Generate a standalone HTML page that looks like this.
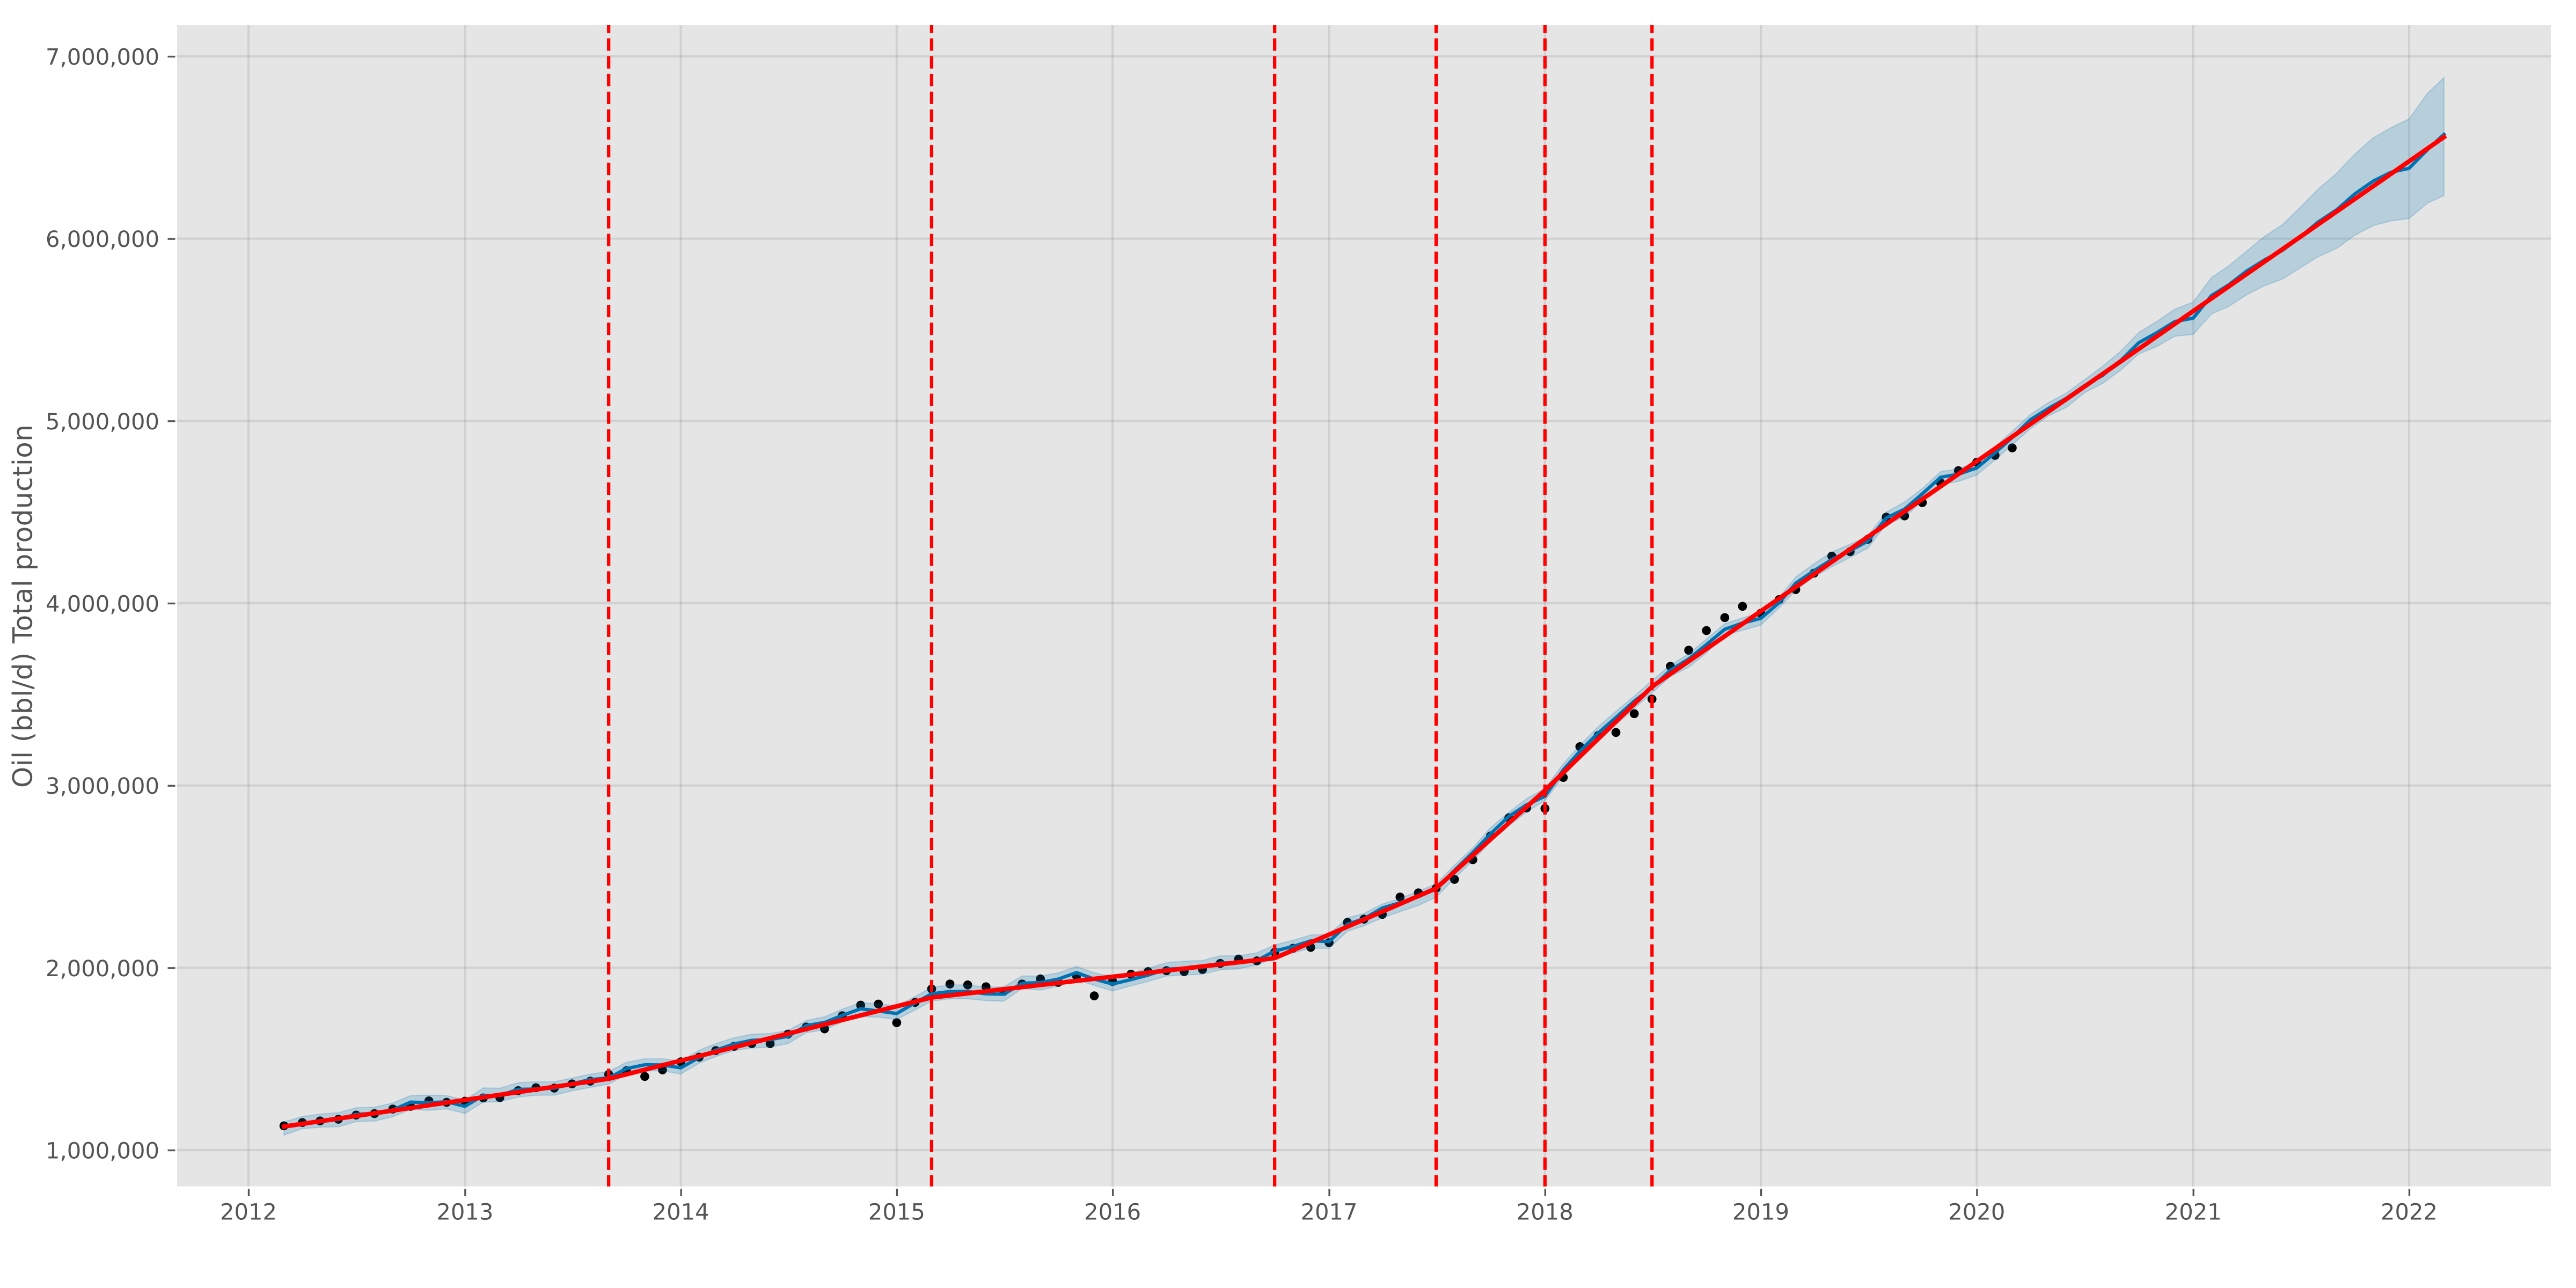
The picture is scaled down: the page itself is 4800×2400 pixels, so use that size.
<!DOCTYPE html>
<html lang="en">
<head>
<meta charset="utf-8">
<title>Oil (bbl/d) Total production forecast</title>
<style>
  html, body { margin: 0; padding: 0; background: #ffffff; }
  body { width: 4800px; height: 2400px; overflow: hidden; }
  svg { display: block; }
  text { font-family: "DejaVu Sans", "Liberation Sans", sans-serif; fill: #555555; text-rendering: geometricPrecision; }
</style>
</head>
<body>
<svg id="chart" xmlns="http://www.w3.org/2000/svg" width="4800" height="2400" viewBox="0 0 4800 2400">
  <defs><clipPath id="plot-clip"><rect x="330" y="47" width="4423" height="2163.7"></rect></clipPath></defs>
  <rect x="0" y="0" width="4800" height="2400" fill="#ffffff"></rect>
  <rect x="330" y="47" width="4423" height="2163.7" fill="#E5E5E5"></rect>
  <g id="grid"></g>
  <g id="axes"></g>
  <g id="marks" clip-path="url(#plot-clip)"></g>
  <text x="0" y="0" transform="translate(59.5,1468) rotate(-90)" text-anchor="start" font-size="50" textLength="677" lengthAdjust="spacing">Oil (bbl/d) Total production</text>
</svg>
<script>
const months = [
"2012-03","2012-04","2012-05","2012-06","2012-07","2012-08","2012-09","2012-10","2012-11","2012-12",
"2013-01","2013-02","2013-03","2013-04","2013-05","2013-06","2013-07","2013-08","2013-09","2013-10","2013-11","2013-12",
"2014-01","2014-02","2014-03","2014-04","2014-05","2014-06","2014-07","2014-08","2014-09","2014-10","2014-11","2014-12",
"2015-01","2015-02","2015-03","2015-04","2015-05","2015-06","2015-07","2015-08","2015-09","2015-10","2015-11","2015-12",
"2016-01","2016-02","2016-03","2016-04","2016-05","2016-06","2016-07","2016-08","2016-09","2016-10","2016-11","2016-12",
"2017-01","2017-02","2017-03","2017-04","2017-05","2017-06","2017-07","2017-08","2017-09","2017-10","2017-11","2017-12",
"2018-01","2018-02","2018-03","2018-04","2018-05","2018-06","2018-07","2018-08","2018-09","2018-10","2018-11","2018-12",
"2019-01","2019-02","2019-03","2019-04","2019-05","2019-06","2019-07","2019-08","2019-09","2019-10","2019-11","2019-12",
"2020-01","2020-02","2020-03","2020-04","2020-05","2020-06","2020-07","2020-08","2020-09","2020-10","2020-11","2020-12",
"2021-01","2021-02","2021-03","2021-04","2021-05","2021-06","2021-07","2021-08","2021-09","2021-10","2021-11","2021-12",
"2022-01","2022-02","2022-03"];

/* All production values are in millions of bbl/d */
const actual = [
1.133,1.151,1.160,1.169,1.192,1.200,1.225,1.24,1.270,1.262,
1.268,1.286,1.288,1.326,1.342,1.340,1.363,1.378,1.415,1.435,1.404,1.44,
1.484,1.51,1.546,1.569,1.584,1.584,1.636,1.675,1.665,1.737,1.795,1.801,
1.699,1.81,1.884,1.911,1.906,1.896,1.871,1.911,1.939,1.92,1.955,1.846,
1.925,1.965,1.979,1.984,1.979,1.991,2.024,2.048,2.038,2.085,2.107,2.112,
2.138,2.249,2.267,2.293,2.388,2.411,2.436,2.485,2.593,2.723,2.823,2.877,
2.874,3.044,3.213,3.274,3.291,3.394,3.474,3.654,3.742,3.85,3.921,3.983,
3.945,4.02,4.075,4.165,4.258,4.283,4.351,4.472,4.479,4.552,4.66,4.727,
4.773,4.811,4.852];

const forecast = [
1.13,1.144,1.156,1.168,1.196,1.201,1.22,1.263,1.26,1.265,
1.24,1.30,1.30,1.333,1.335,1.34,1.364,1.387,1.396,1.447,1.468,1.467,
1.451,1.508,1.548,1.582,1.602,1.606,1.624,1.683,1.70,1.739,1.775,1.763,
1.749,1.808,1.857,1.87,1.87,1.857,1.855,1.915,1.919,1.938,1.974,1.938,
1.911,1.935,1.96,1.992,1.997,2.004,2.026,2.028,2.04,2.092,2.117,2.148,
2.144,2.239,2.269,2.328,2.357,2.39,2.433,2.534,2.632,2.735,2.831,2.894,
2.941,3.086,3.187,3.288,3.373,3.463,3.536,3.632,3.694,3.773,3.857,3.891,
3.917,4.003,4.11,4.178,4.24,4.288,4.341,4.467,4.516,4.60,4.691,4.708,
4.742,4.825,4.909,5.007,5.068,5.125,5.193,5.25,5.333,5.429,5.485,5.545,
5.564,5.688,5.744,5.821,5.882,5.936,6.009,6.093,6.159,6.245,6.315,6.364,
6.386,6.488,6.572];

const forecastUpper = [
1.153,1.184,1.198,1.205,1.232,1.235,1.258,1.299,1.301,1.299,
1.274,1.341,1.339,1.37,1.375,1.375,1.395,1.417,1.431,1.481,1.501,1.501,
1.489,1.548,1.584,1.616,1.636,1.639,1.656,1.711,1.731,1.773,1.808,1.803,
1.79,1.842,1.893,1.906,1.906,1.893,1.896,1.955,1.955,1.972,2.007,1.973,
1.948,1.972,1.997,2.028,2.036,2.04,2.066,2.066,2.082,2.125,2.151,2.18,
2.184,2.274,2.298,2.35,2.38,2.421,2.46,2.563,2.657,2.769,2.853,2.928,
2.984,3.119,3.221,3.322,3.407,3.491,3.575,3.66,3.722,3.803,3.888,3.919,
3.949,4.032,4.144,4.217,4.28,4.324,4.369,4.5,4.555,4.629,4.722,4.737,
4.776,4.86,4.943,5.036,5.1,5.154,5.226,5.30,5.384,5.485,5.547,5.613,
5.652,5.787,5.848,5.93,6.011,6.077,6.172,6.274,6.36,6.463,6.552,6.608,
6.657,6.797,6.884];

const forecastLower = [
1.082,1.117,1.125,1.128,1.156,1.159,1.183,1.223,1.218,1.226,
1.201,1.263,1.265,1.291,1.301,1.301,1.325,1.344,1.361,1.415,1.435,1.435,
1.417,1.477,1.513,1.546,1.56,1.565,1.584,1.644,1.66,1.703,1.732,1.729,
1.717,1.768,1.817,1.83,1.83,1.82,1.817,1.886,1.878,1.899,1.935,1.903,
1.873,1.901,1.925,1.955,1.96,1.965,1.989,1.994,2.016,2.053,2.082,2.107,
2.107,2.2,2.23,2.274,2.308,2.342,2.387,2.49,2.588,2.691,2.779,2.855,
2.917,3.052,3.148,3.243,3.333,3.423,3.508,3.598,3.649,3.727,3.825,3.851,
3.88,3.975,4.071,4.144,4.2,4.251,4.302,4.433,4.472,4.56,4.652,4.668,
4.703,4.786,4.869,4.958,5.027,5.075,5.154,5.206,5.28,5.367,5.409,5.465,
5.474,5.587,5.626,5.691,5.741,5.778,5.84,5.902,5.947,6.018,6.071,6.097,
6.11,6.195,6.236];

const trendDates = ["2012-03","2013-09","2015-03","2016-10","2017-07","2018-01","2018-07","2022-03"];
const trendValues = [1.129,1.391,1.837,2.053,2.436,2.973,3.542,6.557];
const changepoints = ["2013-09","2015-03","2016-10","2017-07","2018-01","2018-07"];

const xTickDates = ["2012-01","2013-01","2014-01","2015-01","2016-01","2017-01","2018-01","2019-01","2020-01","2021-01","2022-01"];
const xTickLabels = ["2012","2013","2014","2015","2016","2017","2018","2019","2020","2021","2022"];
const yTickValues = [1,2,3,4,5,6,7];
const yTickLabels = ["1,000,000","2,000,000","3,000,000","4,000,000","5,000,000","6,000,000","7,000,000"];

const SVG_NS = "http://www.w3.org/2000/svg";
const plot = { left: 330, right: 4753, top: 47, bottom: 2210.7 };

function xScale(month) {
  const parts = month.split("-");
  const days = (Date.UTC(+parts[0], +parts[1] - 1, 1) - Date.UTC(2012, 0, 1)) / 86400000;
  return 463 + days * 1.1021;
}
function yScale(value) {
  return 2143 - (value - 1) * 339.67;
}
function make(tag, attrs) {
  const el = document.createElementNS(SVG_NS, tag);
  for (const key in attrs) el.setAttribute(key, attrs[key]);
  return el;
}
function pathFrom(dates, values) {
  return values.map((v, i) => (i ? "L" : "M") + xScale(dates[i]).toFixed(2) + " " + yScale(v).toFixed(2)).join(" ");
}

const gridGroup = document.getElementById("grid");
const axesGroup = document.getElementById("axes");
const marksGroup = document.getElementById("marks");

xTickDates.forEach((date, i) => {
  const x = xScale(date);
  const gridLine = make("line", { x1: x, x2: x, y1: plot.top, y2: plot.bottom, stroke: "#808080", "stroke-opacity": 0.2, "stroke-width": 4.17 });
  
  
  gridGroup.appendChild(gridLine);

  const tick = make("line", { x1: x + 0.5, x2: x + 0.5, y1: 2215, y2: 2229, stroke: "#555555", "stroke-width": 3.33 });
  
  
  axesGroup.appendChild(tick);

  const label = make("text", { x: x, y: 2272.5, "text-anchor": "middle", "font-size": 41.67 });
  label.textContent = xTickLabels[i];
  
  
  axesGroup.appendChild(label);
});

yTickValues.forEach((value, i) => {
  const y = yScale(value);
  const gridLine = make("line", { x1: plot.left, x2: plot.right, y1: y, y2: y, stroke: "#808080", "stroke-opacity": 0.2, "stroke-width": 4.17 });
  
  
  gridGroup.appendChild(gridLine);

  const tick = make("line", { x1: 312.5, x2: 326.5, y1: y + 0.5, y2: y + 0.5, stroke: "#555555", "stroke-width": 3.33 });
  
  
  axesGroup.appendChild(tick);

  const label = make("text", { x: 297, y: y + 15.5, "text-anchor": "end", "font-size": 41.67 });
  label.textContent = yTickLabels[i];
  
  
  axesGroup.appendChild(label);
});

actual.forEach((value, i) => {
  const dot = make("circle", { cx: xScale(months[i]), cy: yScale(value), r: 8.33, fill: "#000000" });
  
  
  marksGroup.appendChild(dot);
});

const forecastLine = make("path", { d: pathFrom(months, forecast), fill: "none", stroke: "#0072B2", "stroke-width": 6.25, "stroke-linejoin": "round", "stroke-linecap": "square" });


marksGroup.appendChild(forecastLine);

const upperPath = pathFrom(months, forecastUpper);
const lowerPath = forecastLower.map((v, i) => i).reverse().map(i => "L" + xScale(months[i]).toFixed(2) + " " + yScale(forecastLower[i]).toFixed(2)).join(" ");
const band = make("path", { d: upperPath + " " + lowerPath + " Z", fill: "#0072B2", "fill-opacity": 0.2, stroke: "#0072B2", "stroke-opacity": 0.2, "stroke-width": 2.08 });


marksGroup.appendChild(band);

changepoints.forEach((date) => {
  const x = xScale(date);
  const vline = make("line", { x1: x, x2: x, y1: 2213, y2: plot.top, stroke: "#FF0000", "stroke-width": 6.25, "stroke-dasharray": "23.1 10" });
  
  
  marksGroup.appendChild(vline);
});

const trendLine = make("path", { d: pathFrom(trendDates, trendValues), fill: "none", stroke: "#FF0000", "stroke-width": 8.33, "stroke-linejoin": "round", "stroke-linecap": "square" });


marksGroup.appendChild(trendLine);
</script>
</body>
</html>
